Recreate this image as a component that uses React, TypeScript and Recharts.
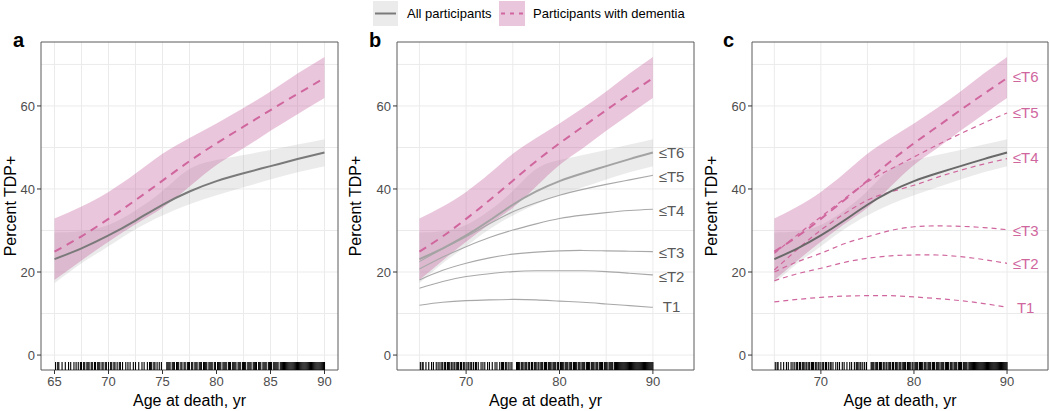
import React from "react"
import { Area, ComposedChart, CartesianGrid, Line, ReferenceArea, Scatter, XAxis, YAxis } from "recharts"

const ages = [65, 67.5, 70, 72.5, 75, 77.5, 80, 82.5, 85, 87.5, 90]

// all participants (≤T6)
const allMid = [23.1, 25.7, 28.8, 32.4, 36.2, 39.4, 41.9, 43.8, 45.5, 47.2, 48.8]
const allLo = [17.3, 22.1, 26.2, 30.3, 33.6, 36.3, 38.5, 40.4, 42.3, 44.0, 45.5]
const allHi = [29.5, 29.8, 31.3, 34.8, 39.5, 44.8, 47.0, 48.2, 49.4, 50.7, 52.0]

// participants with dementia (≤T6)
const demMid = [24.9, 28.6, 32.8, 37.3, 42.0, 46.7, 51.0, 55.0, 59.0, 62.9, 66.7]
const demLo = [18.1, 22.8, 27.3, 31.5, 35.5, 40.6, 45.8, 49.8, 54.0, 58.0, 61.9]
const demHi = [32.9, 35.8, 39.3, 43.7, 48.5, 52.3, 55.8, 59.5, 63.5, 67.8, 71.8]

// stage curves, all participants
const allT5 = [22.5, 25.6, 28.5, 31.6, 34.5, 36.7, 38.5, 39.9, 41.1, 42.2, 43.3]
const allT4 = [20.7, 23.6, 26.1, 28.3, 30.1, 31.6, 32.9, 33.7, 34.3, 34.8, 35.1]
const allT3 = [18.1, 20.4, 22.1, 23.4, 24.3, 24.8, 25.1, 25.2, 25.1, 25.0, 24.9]
const allT2 = [16.1, 17.7, 18.9, 19.6, 20.1, 20.3, 20.3, 20.3, 20.1, 19.7, 19.3]
const allT1 = [12.0, 12.7, 13.1, 13.3, 13.4, 13.3, 13.0, 12.7, 12.3, 11.9, 11.5]

// stage curves, dementia
const demT5 = [24.5, 29.0, 33.3, 37.6, 41.7, 44.8, 47.7, 50.6, 53.3, 55.9, 58.3]
const demT4 = [20.5, 25.5, 30.1, 34.0, 37.3, 39.3, 40.9, 42.8, 44.5, 46.0, 47.3]
const demT3 = [20.0, 22.5, 24.5, 26.8, 28.5, 30.0, 30.9, 31.1, 31.0, 30.7, 30.2]
const demT2 = [17.9, 19.6, 20.9, 22.3, 23.3, 23.9, 24.1, 24.1, 23.7, 23.0, 22.1]
const demT1 = [12.8, 13.4, 13.9, 14.2, 14.3, 14.3, 14.0, 13.6, 13.1, 12.4, 11.5]

const stageNames = ["≤T6", "≤T5", "≤T4", "≤T3", "≤T2", "T1"]
const labelPosB = [48.7, 43.1, 34.7, 24.8, 19.0, 11.6]
const labelPosC = [67.0, 58.3, 47.5, 30.0, 22.0, 11.5]

const rugAges = [
  65.1, 65.3, 65.4, 65.7, 66.0, 66.3, 66.5, 66.8, 67.0, 67.2, 67.4, 67.5, 67.7, 67.8, 68.0, 68.1, 68.2, 68.4,
  68.5, 68.7, 68.8, 69.0, 69.1, 69.2, 69.4, 69.5, 69.7, 69.8, 70.0, 70.2, 70.3, 70.5, 70.6, 70.8, 71.0, 71.1,
  71.3, 71.6, 71.8, 72.0, 72.3, 72.5, 72.8, 73.1, 73.3, 73.6, 73.8, 73.9, 74.0, 74.2, 74.3, 74.5, 74.7, 74.9,
  75.4, 75.5, 75.6, 75.7, 75.9, 76.0, 76.1, 76.3, 76.4, 76.5, 76.7, 76.8, 77.0, 77.1, 77.3, 77.4, 77.5, 77.7,
  77.8, 78.0, 78.1, 78.2, 78.4, 78.5, 78.6, 78.8, 78.9, 79.0, 79.1, 79.3, 79.4, 79.5, 79.6, 79.8, 79.9, 80.1,
  80.2, 80.3, 80.4, 80.6, 80.7, 80.8, 80.9, 81.1, 81.2, 81.3, 81.5, 81.6, 81.7, 81.8, 82.0, 82.1, 82.2, 82.4,
  82.5, 82.6, 82.7, 82.9, 83.0, 83.1, 83.2, 83.4, 83.5, 83.6, 83.7, 83.9, 84.0, 84.1, 84.3, 84.4, 84.5, 84.6,
  84.8, 84.9, 85.0, 85.1, 85.3, 85.4, 85.5, 85.6, 85.7, 85.9, 86.0, 86.1, 86.2, 86.3, 86.4, 86.5, 86.6, 86.7,
  86.8, 86.9, 87.0, 87.1, 87.2, 87.3, 87.4, 87.5, 87.6, 87.7, 87.8, 87.9, 88.0, 88.1, 88.2, 88.3, 88.4, 88.5,
  88.6, 88.7, 88.8, 88.9, 89.0, 89.1, 89.2, 89.3, 89.4, 89.5, 89.6, 89.7, 89.8, 89.9, 90.0,
]

const rows = ages.map((age, i) => ({
  age,
  allMid: allMid[i], allLo: allLo[i], allHi: allHi[i],
  demMid: demMid[i], demLo: demLo[i], demHi: demHi[i],
  allT5: allT5[i], allT4: allT4[i], allT3: allT3[i], allT2: allT2[i], allT1: allT1[i],
  demT5: demT5[i], demT4: demT4[i], demT3: demT3[i], demT2: demT2[i], demT1: demT1[i],
}))

const RUG_Y = -2.64
const rugRows = rugAges.map((age) => ({ age, y: RUG_Y }))

const PINK = "#d0669e"
const FONT = "'Liberation Sans', Arial, Helvetica, sans-serif"
const Y_DOMAIN = [-3.6, 75.4]

const RugTick = (props: any) => (
  <line x1={props.cx} x2={props.cx} y1={props.cy - 4} y2={props.cy + 4} stroke="#000" strokeWidth={1.1} />
)

function makeLabel(color: string) {
  return (props: any) => (
    <text x={props.cx} y={props.cy} textAnchor="middle" dominantBaseline="central" fontSize={15} fill={color} fontFamily={FONT}>
      {props.payload.text}
    </text>
  )
}

function Panel({ mode, left, width }: { mode: "a" | "b" | "c"; left: number; width: number }) {
  const xDomain = mode === "a" ? [63.75, 91.25] : [62.6, 94.4]
  const xTicks = mode === "a" ? [65, 70, 75, 80, 85, 90] : [70, 80, 90]
  const vGrid = mode === "a" ? [65, 67.5, 70, 72.5, 75, 77.5, 80, 82.5, 85, 87.5, 90] : [65, 70, 75, 80, 85, 90]
  const allColor = mode === "a" ? "#7a7a7a" : mode === "b" ? "#a3a3a3" : "#696969"
  const labels =
    mode === "b"
      ? stageNames.map((text, i) => ({ age: 92, y: labelPosB[i], text }))
      : stageNames.map((text, i) => ({ age: 92, y: labelPosC[i], text }))

  return (
    <div style={{ position: "absolute", left, top: 0 }}>
      <ComposedChart width={width} height={411} data={rows} margin={{ top: 42, right: 2, bottom: 0, left: 0 }}>
        <CartesianGrid stroke="#ebebeb" horizontalValues={[0, 10, 20, 30, 40, 50, 60, 70]} verticalValues={vGrid} />
        <XAxis
          dataKey="age"
          type="number"
          domain={xDomain}
          ticks={xTicks}
          allowDataOverflow
          height={41}
          axisLine={false}
          tickSize={4}
          tickMargin={3}
          tickLine={{ stroke: "#333" }}
          tick={{ fill: "#4d4d4d", fontSize: 13 }}
        />
        <YAxis
          dataKey="y"
          type="number"
          domain={Y_DOMAIN}
          ticks={[0, 20, 40, 60]}
          allowDataOverflow
          width={41}
          axisLine={false}
          tickSize={4}
          tickMargin={2}
          tickLine={{ stroke: "#333" }}
          tick={{ fill: "#4d4d4d", fontSize: 13 }}
        />
        <Area type="natural" dataKey={(d: any) => [d.allLo, d.allHi]} stroke="none" fill="#999" fillOpacity={0.2} isAnimationActive={false} />
        <Area type="natural" dataKey={(d: any) => [d.demLo, d.demHi]} stroke="none" fill="#c45b9b" fillOpacity={0.35} isAnimationActive={false} />
        {mode === "b" &&
          ["allT5", "allT4", "allT3", "allT2", "allT1"].map((k) => (
            <Line key={k} type="natural" dataKey={k} stroke="#a8a8a8" strokeWidth={1.1} dot={false} isAnimationActive={false} />
          ))}
        {mode === "c" &&
          ["demT5", "demT4", "demT3", "demT2", "demT1"].map((k) => (
            <Line key={k} type="natural" dataKey={k} stroke={PINK} strokeWidth={1.2} strokeDasharray="5 4" dot={false} isAnimationActive={false} />
          ))}
        <Line type="natural" dataKey="allMid" stroke={allColor} strokeWidth={2} dot={false} isAnimationActive={false} />
        <Line type="natural" dataKey="demMid" stroke={PINK} strokeWidth={2} strokeDasharray="8 6" dot={false} isAnimationActive={false} />
        <Scatter data={rugRows} shape={RugTick} isAnimationActive={false} />
        {mode !== "a" && (
          <Scatter data={labels} shape={makeLabel(mode === "b" ? "#595959" : PINK)} isAnimationActive={false} />
        )}
        <ReferenceArea x1={xDomain[0]} x2={xDomain[1]} y1={Y_DOMAIN[0]} y2={Y_DOMAIN[1]} fill="none" stroke="#5a5a5a" strokeWidth={1} />
      </ComposedChart>
    </div>
  )
}

export default function App() {
  const plots = [
    { mode: "a" as const, left: 0, width: 340, letterX: 13, yTitleX: 16, center: 189.5 },
    { mode: "b" as const, left: 356, width: 340, letterX: 369, yTitleX: 361, center: 545.5 },
    { mode: "c" as const, left: 711, width: 339, letterX: 723, yTitleX: 717, center: 900 },
  ]
  return (
    <div style={{ position: "absolute", left: 0, top: 0, width: 1050, height: 411, background: "#fff", fontFamily: FONT }}>
      {plots.map((p) => (
        <Panel key={p.mode} mode={p.mode} left={p.left} width={p.width} />
      ))}
      <svg width={1050} height={411} style={{ position: "absolute", left: 0, top: 0, pointerEvents: "none" }} fontFamily={FONT}>
        {plots.map((p) => (
          <g key={p.mode}>
            <text x={p.letterX} y={47} fontSize={20} fontWeight="bold" fill="#000">{p.mode}</text>
            <text x={p.center} y={406} fontSize={16} textAnchor="middle" fill="#000">Age at death, yr</text>
            <text x={p.yTitleX} y={206} fontSize={16} textAnchor="middle" fill="#000" transform={`rotate(-90 ${p.yTitleX} 206)`}>
              Percent TDP+
            </text>
          </g>
        ))}
        {/* legend */}
        <rect x={373} y={1} width={25} height={25} fill="#999" fillOpacity={0.2} />
        <line x1={375} x2={396} y1={13.5} y2={13.5} stroke="#7a7a7a" strokeWidth={2} />
        <text x={407} y={18} fontSize={13} fill="#000">All participants</text>
        <rect x={499} y={1} width={26} height={25} fill="#c45b9b" fillOpacity={0.35} />
        <line x1={501} x2={523} y1={13.5} y2={13.5} stroke={PINK} strokeWidth={2} strokeDasharray="4 5" />
        <text x={533} y={18} fontSize={13} fill="#000">Participants with dementia</text>
      </svg>
    </div>
  )
}
